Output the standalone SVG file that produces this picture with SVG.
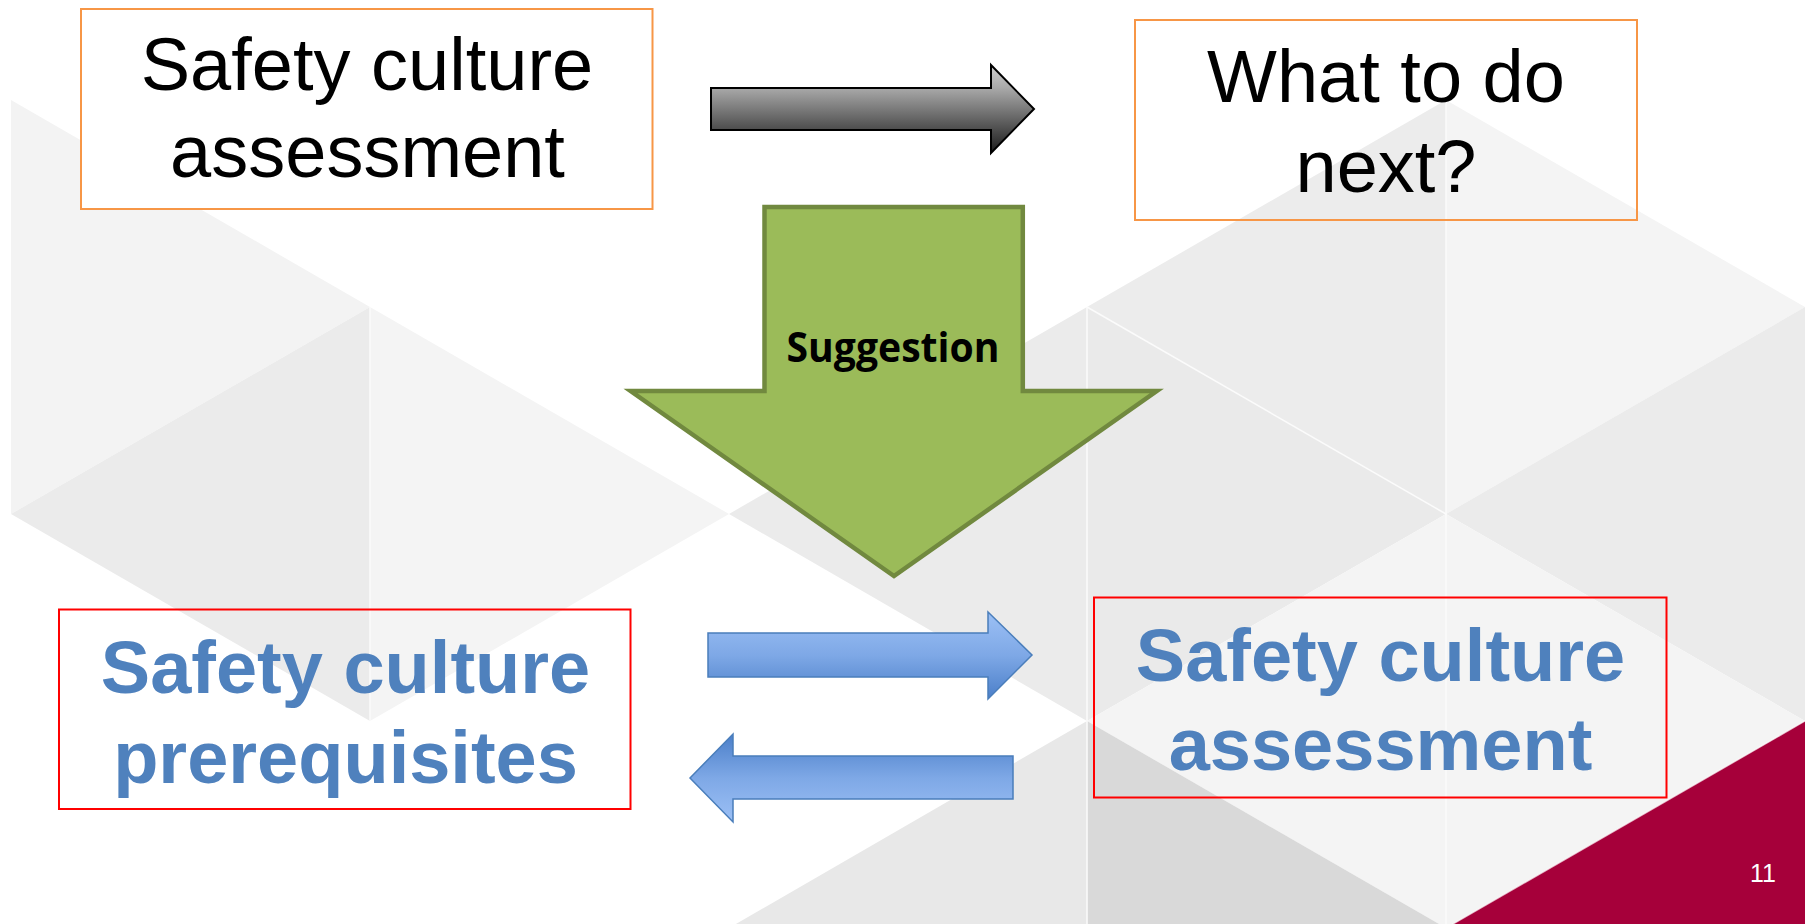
<svg xmlns="http://www.w3.org/2000/svg" width="1805" height="924" viewBox="0 0 1805 924">
<defs>
<style>
.t{font-family:"Liberation Sans",Arial,sans-serif;font-size:74px;text-anchor:middle}
.k{fill:#000}
.b{fill:#4f81bd;font-weight:bold}
.ob{fill:none;stroke:#f79646;stroke-width:2}
.rb{fill:none;stroke:#ff0000;stroke-width:2}
.edge{stroke:#fbfbfb;stroke-width:1.5;fill:none}
</style>
<linearGradient id="gGray" x1="0" y1="0" x2="0" y2="1">
<stop offset="0" stop-color="#cfcfcf"/>
<stop offset="0.26" stop-color="#a9a9a9"/>
<stop offset="0.74" stop-color="#4c4c4c"/>
<stop offset="1" stop-color="#1c1c1c"/>
</linearGradient>
<linearGradient id="gBlueDown" x1="0" y1="0" x2="0" y2="1">
<stop offset="0" stop-color="#9cc0f5"/>
<stop offset="0.5" stop-color="#7ea8e6"/>
<stop offset="1" stop-color="#4b7fc9"/>
</linearGradient>
<linearGradient id="gBlueUp" x1="0" y1="0" x2="0" y2="1">
<stop offset="0" stop-color="#4b7fc9"/>
<stop offset="0.5" stop-color="#7ea8e6"/>
<stop offset="1" stop-color="#9cc0f5"/>
</linearGradient>
</defs>

<g id="background">
<rect x="0" y="0" width="1805" height="924" fill="#ffffff"/>
<polygon points="11,100 11,514 370,307" fill="#f3f3f3"/>
<polygon points="370,307 370,721 11,514" fill="#ebebeb"/>
<polygon points="370,307 370,721 729,514" fill="#f4f4f4"/>
<polygon points="1087,307 1087,721 729,514" fill="#ebebeb"/>
<polygon points="1087,721 1087,1135 729,928" fill="#e8e8e8"/>
<polygon points="1446,100 1446,514 1087,307" fill="#ececec"/>
<polygon points="1087,307 1087,721 1446,514" fill="#eaeaea"/>
<polygon points="1446,514 1446,928 1087,721" fill="#f4f4f4"/>
<polygon points="1087,721 1087,1135 1446,928" fill="#d9d9d9"/>
<polygon points="1446,100 1446,514 1805,307" fill="#f4f4f4"/>
<polygon points="1805,307 1805,721 1446,514" fill="#ebebeb"/>
<polygon points="1446,514 1446,928 1805,721" fill="#f4f4f4"/>
<line class="edge" x1="370" y1="307" x2="370" y2="721"/>
<line class="edge" x1="1087" y1="307" x2="1087" y2="924"/>
<line class="edge" x1="1446" y1="100" x2="1446" y2="924"/>
<line class="edge" x1="1087" y1="307" x2="1446" y2="514"/>
<polygon points="1805,721 1805,1135 1446,928" fill="#a6003a"/>
<line x1="1805" y1="721" x2="1446" y2="928" stroke="#ffffff" stroke-width="1.5" opacity="0.7"/>
<text x="1776" y="882" font-family="Liberation Sans, Arial, sans-serif" font-size="25" fill="#ffffff" text-anchor="end">11</text>
</g>

<g id="connectors">
<polygon id="arrow-gray" points="711,88 991,88 991,65 1034,109 991,153 991,130 711,130" fill="url(#gGray)" stroke="#000" stroke-width="2" stroke-linejoin="miter"/>
<g id="arrow-suggestion">
<polygon points="764.5,207 1022.8,207 1022.8,391 1156.8,391 894,576 630.6,391 764.5,391" fill="#9bbb59" stroke="#71893f" stroke-width="4.5"/>
<text x="893" y="362" font-family="Open Sans, Noto Sans, sans-serif" font-weight="bold" font-size="42" fill="#000" text-anchor="middle" textLength="213" lengthAdjust="spacingAndGlyphs">Suggestion</text>
</g>
<polygon id="arrow-blue-right" points="708,633 988,633 988,612 1032,655 988,699 988,677 708,677" fill="url(#gBlueDown)" stroke="#4a7ebb" stroke-width="1.5"/>
<polygon id="arrow-blue-left" points="690,778 733,734 733,756 1013,756 1013,799 733,799 733,822" fill="url(#gBlueUp)" stroke="#4a7ebb" stroke-width="1.5"/>
</g>

<g id="node-assessment-top">
<rect x="81" y="9" width="571.5" height="200" fill="#ffffff" stroke="#f79646" stroke-width="2"/>
<text class="t k" x="367" y="90">Safety culture</text>
<text class="t k" x="367.5" y="177">assessment</text>
</g>

<g id="node-next">
<rect class="ob" x="1135" y="20" width="502" height="200"/>
<text class="t k" x="1386" y="102">What to do</text>
<text class="t k" x="1386" y="192">next?</text>
</g>

<g id="node-prerequisites">
<rect class="rb" x="59" y="609.5" width="571.5" height="199.5"/>
<text class="t b" x="345.5" y="693">Safety culture</text>
<text class="t b" x="345.5" y="783">prerequisites</text>
</g>

<g id="node-assessment-bottom">
<rect class="rb" x="1094" y="597.5" width="572.5" height="200"/>
<text class="t b" x="1380.5" y="681">Safety culture</text>
<text class="t b" x="1380.5" y="770">assessment</text>
</g>
</svg>
